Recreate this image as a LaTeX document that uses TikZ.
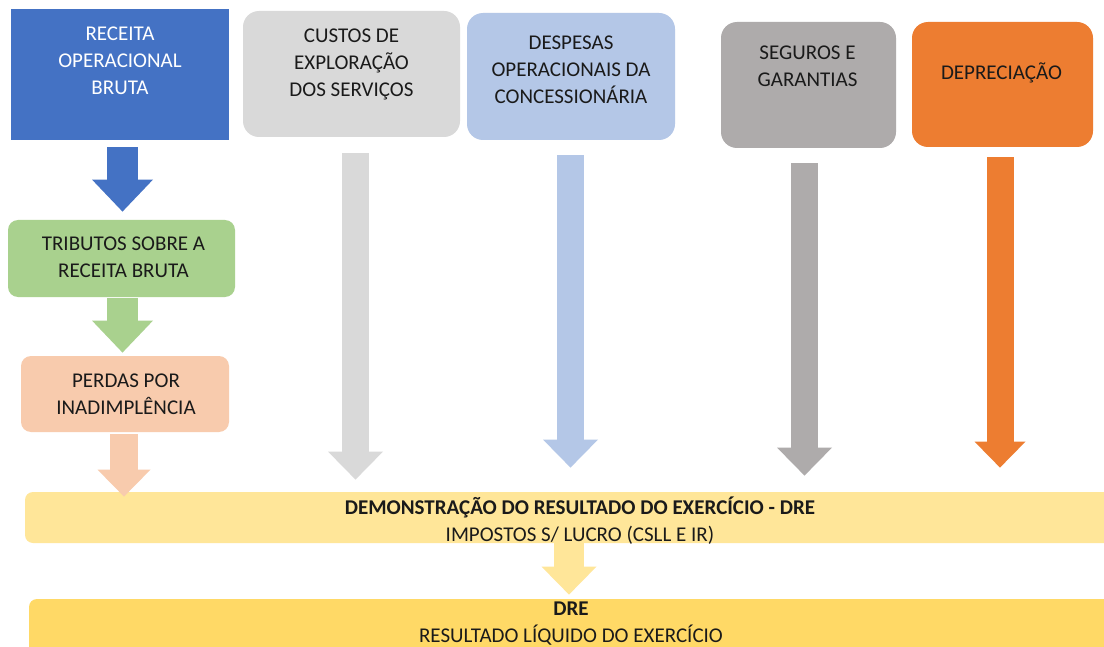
\documentclass[tikz,border=0pt]{standalone}
\usepackage{fontspec}
\setmainfont{Carlito}
\usetikzlibrary{arrows.meta,fit,calc}
\definecolor{cBlue}{HTML}{4472C4}
\definecolor{cLGray}{HTML}{D9D9D9}
\definecolor{cLBlue}{HTML}{B4C7E7}
\definecolor{cGray}{HTML}{AEABAB}
\definecolor{cOrange}{HTML}{ED7D31}
\definecolor{cGreen}{HTML}{A9D18E}
\definecolor{cPeach}{HTML}{F8CBAD}
\definecolor{cYel}{HTML}{FFE699}
\definecolor{cGold}{HTML}{FFD966}
\definecolor{cText}{HTML}{1A1A1A}
\begin{document}
\begin{tikzpicture}[x=0.5pt,y=-0.5pt,
  boxsq/.style={inner sep=0pt, draw=none},
  boxrd/.style={inner sep=0pt, draw=none, rounded corners=8pt},
  txt/.style={align=center, inner sep=0pt, text=cText, font=\fontsize{10.5}{13.5}\selectfont},
  blk/.style={line width=13.5pt, -{Triangle[width=27.5pt,length=14pt,line width=0pt]}},
  blkL/.style={line width=15.5pt, -{Triangle[width=30.5pt,length=16pt,line width=0pt]}},
  blkM/.style={line width=14pt, -{Triangle[width=26.5pt,length=13.5pt,line width=0pt]}},
  blkY/.style={line width=15pt, -{Triangle[width=27.5pt,length=14pt,line width=0pt]}},
]
\clip (0,0) rectangle (1104,647);
\fill[white] (0,0) rectangle (1104,647);

% top boxes
\node[boxsq, fill=cBlue, fit={(11,9)(229,140)}] (b1) {};
\node[boxrd, fill=cLGray, fit={(243,11)(460,137)}] (b2) {};
\node[boxrd, fill=cLBlue, fit={(467,13)(675,140)}] (b3) {};
\node[boxrd, fill=cGray, fit={(721,22)(896,148)}] (b4) {};
\node[boxrd, fill=cOrange, fit={(912,22)(1093,147)}] (b5) {};

% left column
\node[boxrd, rounded corners=5pt, fill=cGreen, fit={(8,220)(235,297)}] (g) {};
\node[boxrd, rounded corners=5pt, fill=cPeach, fit={(21,356)(229,432)}] (p) {};

% bottom bars
\node[boxrd, rounded corners=4pt, fill=cYel, fit={(25,492)(1135,543)}] (d1) {};
\node[boxrd, rounded corners=4pt, fill=cGold, fit={(29,599)(1113,660)}] (d2) {};

% texts
\node[txt, text=white] (b1t) at ($(b1.north)+(0,52.5)$) {RECEITA\\OPERACIONAL\\BRUTA};
\node[txt] (b2t) at ($(b2.north)+(0,54)$) {CUSTOS DE\\EXPLORAÇÃO\\DOS SERVIÇOS};
\node[txt] (b3t) at ($(b3.north)+(0,57)$) {DESPESAS\\OPERACIONAIS DA\\CONCESSIONÁRIA};
\node[txt] (b4t) at ($(b4.north)+(-1,44.5)$) {SEGUROS E\\GARANTIAS};
\node[txt] (b5t) at ($(b5.north)+(-1,51)$) {DEPRECIAÇÃO};
\node[txt] (gt) at ($(g.center)+(2,-1)$) {TRIBUTOS SOBRE A\\RECEITA BRUTA};
\node[txt] (pt) at ($(p.center)+(1,0)$) {PERDAS POR\\INADIMPLÊNCIA};
\node[txt] (d1t) at ($(d1.center)+(0,3.5)$) {\textbf{DEMONSTRAÇÃO DO RESULTADO DO EXERCÍCIO - DRE}\\IMPOSTOS S/ LUCRO (CSLL E IR)};
\node[txt] (d2t) at ($(d2.center)+(0,-6)$) {\textbf{DRE}\\RESULTADO LÍQUIDO DO EXERCÍCIO};

% left column arrows
\draw[blkL, cBlue] ($(b1.south)+(2.5,7)$) -- ($(g.north)+(1,-8)$);
\draw[blkL, cGreen] ($(g.south)+(1,1)$) -- ($(p.north)+(-2.5,-3)$);
\draw[blkM, cPeach] ($(p.south)+(-1,2)$) -- ($(p.south |- d1.north)+(-1,5)$);

% column arrows
\draw[blk, cLGray] ($(b2.south)+(4,16)$) -- ($(b2.south |- d1.north)+(4,-12)$);
\draw[blk, cLBlue] ($(b3.south)+(-0.5,15)$) -- ($(b3.south |- d1.north)+(-0.5,-24)$);
\draw[blk, cGray] ($(b4.south)+(-4,15)$) -- ($(b4.south |- d1.north)+(-4,-16)$);
\draw[blk, cOrange, -{Triangle[width=25.5pt,length=13pt,line width=0pt]}] ($(b5.south)+(-2.5,10)$) -- ($(b5.south |- d1.north)+(-2.5,-24)$);

% DRE arrow
\draw[blkY, cYel] ($(d2.north |- d1.south)+(-2,0)$) -- ($(d2.north)+(-2,-4)$);
\end{tikzpicture}
\end{document}
